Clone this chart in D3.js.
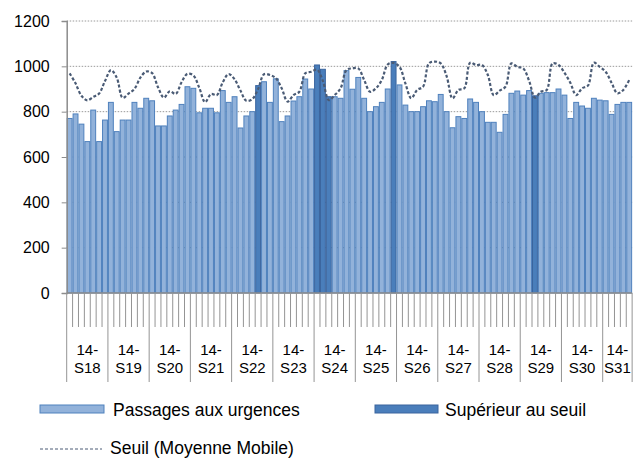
<!DOCTYPE html>
<html><head><meta charset="utf-8">
<script src="https://cdn.jsdelivr.net/npm/d3@7"></script>
<style>
html,body{margin:0;padding:0;background:#fff;overflow:hidden}
text{font-family:"Liberation Sans",Arial,sans-serif;fill:#000}
</style></head>
<body><svg id="c" width="633" height="459"></svg>
<script>
// ---- data ----
const weeks = ["S18","S19","S20","S21","S22","S23","S24","S25","S26","S27","S28","S29","S30","S31"];
const yearLabel = "14-";
const yTicks = [0,200,400,600,800,1000,1200];
const passages = [
 770,790,745,668,807,668,763,
 841,712,763,763,841,815,859,
 848,737,737,781,807,832,910,
 903,795,815,815,795,893,841,
 866,728,781,800,915,932,841,
 945,756,781,847,866,944,900,
 1006,987,866,866,859,981,899,
 951,859,800,822,841,900,1021,
 918,829,800,800,822,848,844,
 876,800,729,778,770,856,841,
 800,753,753,709,788,881,891,
 873,893,870,881,884,884,900,
 873,770,841,825,815,859,851,
 848,788,832,841,841
];
const seuil = [
 969,925,870,850,865,880,935,
 983,950,861,880,900,950,977,
 970,908,862,890,878,930,967,
 960,906,842,878,873,930,966,
 943,893,848,855,900,965,962,
 948,903,844,873,888,969,976,
 985,935,851,873,903,984,991,
 991,940,888,903,940,1008,1015,
 998,925,859,896,910,1013,1021,
 1013,957,859,896,903,1016,1006,
 1006,962,873,893,910,1013,998,
 991,937,862,888,896,1013,1006,
 972,928,873,903,915,1016,998,
 976,928,881,896,940
];
const legendNames = ["Passages aux urgences","Supérieur au seuil","Seuil (Moyenne Mobile)"];

// ---- styles ----
const lightFill="#92b2da", lightStroke="#4f81bd";
const darkFill="#4a7ebb", darkStroke="#3a649e";
const lineColor="#4a5b75";
const axisColor="#8c8c8c";

const svg=d3.select("#c");
const x0=66.7, slot=5.89, n=passages.length;
const x=d3.scaleBand().domain(d3.range(n)).range([x0,x0+slot*n]).padding(0);
const xEnd=x0+slot*n;
const y=d3.scaleLinear().domain([0,1200]).range([293,21]);

// gridlines
svg.append("g").selectAll("line").data(yTicks.filter(d=>d>0)).join("line")
 .attr("x1",x0).attr("x2",xEnd).attr("y1",d=>y(d)).attr("y2",d=>y(d))
 .attr("stroke","#9a9a9a").attr("stroke-width",1).attr("stroke-dasharray","1.5,1.5");

// bars
svg.append("g").selectAll("rect").data(passages).join("rect")
 .attr("x",(d,i)=>x(i)+0.5).attr("width",x.bandwidth()-1)
 .attr("y",d=>y(d)).attr("height",d=>y(0)-y(d))
 .attr("fill",(d,i)=>d>seuil[i]?darkFill:lightFill)
 .attr("stroke",(d,i)=>d>seuil[i]?darkStroke:lightStroke).attr("stroke-width",1);

// seuil line
const line=d3.line().x((d,i)=>x(i)+x.bandwidth()/2).y(d=>y(d)).curve(d3.curveCatmullRom.alpha(0.5));
svg.append("path").datum(seuil).attr("d",line).attr("fill","none")
 .attr("stroke",lineColor).attr("stroke-width",2.2).attr("stroke-dasharray","3,2");

// y axis
const ya=svg.append("g").attr("transform",`translate(${x0},0)`)
 .call(d3.axisLeft(y).tickValues(yTicks).tickSize(5).tickPadding(12).tickFormat(d3.format("d")));
ya.select(".domain").attr("stroke",axisColor).attr("stroke-width",1.5);
ya.selectAll(".tick line").attr("stroke",axisColor);
ya.selectAll("text").attr("font-size",16).attr("font-family","Liberation Sans, Arial").attr("fill","#000");

// x axis line
svg.append("line").attr("x1",x0).attr("x2",xEnd).attr("y1",y(0)).attr("y2",y(0)).attr("stroke",axisColor).attr("stroke-width",1.5);
// minor ticks at each bar boundary, long separators between weeks
svg.append("g").selectAll("line").data(d3.range(n+1)).join("line")
 .attr("x1",i=>x0+i*slot).attr("x2",i=>x0+i*slot)
 .attr("y1",y(0)).attr("y2",i=>(i%7===0||i===n)?382:327)
 .attr("stroke","#949494").attr("stroke-width",1);

// week labels (centred on the days present in each week)
const wk=svg.append("g").selectAll("g").data(weeks).join("g")
 .attr("transform",(d,k)=>{const a=k*7,b=Math.min(n,k*7+7);return `translate(${x0+slot*(a+b)/2},0)`;});
wk.append("text").attr("y",355).attr("text-anchor","middle").attr("font-size",15).text(yearLabel);
wk.append("text").attr("y",373).attr("text-anchor","middle").attr("font-size",15).text(d=>d);

// legend
const lg=svg.append("g");
lg.append("rect").attr("x",40).attr("y",405).attr("width",64).attr("height",8).attr("fill",lightFill).attr("stroke",lightStroke);
lg.append("text").attr("x",113).attr("y",416).attr("font-size",17.5).text(legendNames[0]);
lg.append("rect").attr("x",375).attr("y",405).attr("width",63).attr("height",8).attr("fill",darkFill).attr("stroke",darkStroke);
lg.append("text").attr("x",445).attr("y",416).attr("font-size",17.5).text(legendNames[1]);
lg.append("line").attr("x1",40).attr("x2",102).attr("y1",449).attr("y2",449).attr("stroke",lineColor).attr("stroke-width",1).attr("stroke-dasharray","3,2");
lg.append("text").attr("x",110).attr("y",454).attr("font-size",17.5).text(legendNames[2]);
</script></body></html>
